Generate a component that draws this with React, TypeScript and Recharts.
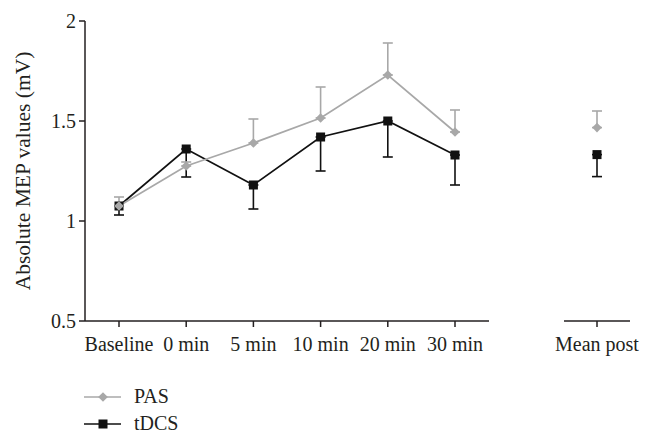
import React from 'react';
import { LineChart, Line, XAxis, YAxis, ErrorBar } from 'recharts';

const timepoints = ['Baseline', '0 min', '5 min', '10 min', '20 min', '30 min'];
const pasMeans = [1.075, 1.275, 1.39, 1.515, 1.73, 1.445];
const pasErr = [0.045, 0.02, 0.12, 0.155, 0.16, 0.11];
const tdcsMeans = [1.075, 1.36, 1.18, 1.42, 1.5, 1.33];
const tdcsErr = [0.045, 0.14, 0.12, 0.17, 0.18, 0.15];

const postLabel = ['Mean post'];
const pasPost = [1.467];
const pasPostErr = [0.083];
const tdcsPost = [1.332];
const tdcsPostErr = [0.11];

const yTicks = [0.5, 1, 1.5, 2];

const GRAY = '#a8a8a8';
const BLACK = '#111111';
const AXIS = '#231f20';
const FONT = '"Liberation Serif", "Times New Roman", serif';
const FS = 20;

// PAS error bars point up, tDCS error bars point down
const mainData = timepoints.map((t, i) => ({
  time: t,
  pas: pasMeans[i],
  pasErr: [0, pasErr[i]],
  tdcs: tdcsMeans[i],
  tdcsErr: [tdcsErr[i], 0],
}));

const postData = postLabel.map((t, i) => ({
  time: t,
  pas: pasPost[i],
  pasErr: [0, pasPostErr[i]],
  tdcs: tdcsPost[i],
  tdcsErr: [tdcsPostErr[i], 0],
}));

const Diamond = (props: any) => {
  const { cx, cy } = props;
  if (cx == null || cy == null) return null;
  const r = 4.8;
  return (
    <polygon
      points={`${cx},${cy - r} ${cx + r},${cy} ${cx},${cy + r} ${cx - r},${cy}`}
      fill={GRAY}
    />
  );
};

const Square = (props: any) => {
  const { cx, cy } = props;
  if (cx == null || cy == null) return null;
  const s = 9;
  return <rect x={cx - s / 2} y={cy - s / 2} width={s} height={s} fill={BLACK} />;
};

// plain text tick so "Mean post" does not wrap
const XTick = (props: any) => {
  const { x, y, payload } = props;
  return (
    <text x={x} y={y} dy="0.71em" textAnchor="middle" fontFamily={FONT} fontSize={FS} fill={AXIS}>
      {payload.value}
    </text>
  );
};

const yTickStyle = { fontFamily: FONT, fontSize: FS, fill: AXIS };

const renderLines = () => [
  <Line
    key="tdcs"
    dataKey="tdcs"
    stroke={BLACK}
    strokeWidth={1.7}
    dot={<Square />}
    activeDot={false}
    isAnimationActive={false}
  >
    <ErrorBar dataKey="tdcsErr" width={5} stroke={BLACK} strokeWidth={1.6} direction="y" />
  </Line>,
  <Line
    key="pas"
    dataKey="pas"
    stroke={GRAY}
    strokeWidth={1.7}
    dot={<Diamond />}
    activeDot={false}
    isAnimationActive={false}
  >
    <ErrorBar dataKey="pasErr" width={5} stroke={GRAY} strokeWidth={1.6} direction="y" />
  </Line>,
];

const App: React.FC = () => {
  return (
    <div
      style={{
        position: 'absolute',
        left: 0,
        top: 0,
        width: 670,
        height: 445,
        background: '#fff',
        fontFamily: FONT,
      }}
    >
      <div style={{ position: 'absolute', left: 0, top: 0 }}>
        <LineChart width={494} height={361} data={mainData} margin={{ top: 21, right: 5, left: 0, bottom: 0 }}>
          <XAxis
            dataKey="time"
            padding={{ left: 34, right: 34 }}
            height={40}
            tickSize={6}
            tickMargin={10}
            tick={<XTick />}
            stroke={AXIS}
            strokeWidth={1.5}
            interval={0}
          />
          <YAxis
            width={85}
            domain={[0.5, 2]}
            ticks={yTicks}
            tickSize={6}
            tickMargin={3}
            tick={yTickStyle}
            stroke={AXIS}
            strokeWidth={1.5}
            label={{
              value: 'Absolute MEP values (mV)',
              angle: -90,
              position: 'center',
              dx: -20,
              style: { fontFamily: FONT, fontSize: 21.5, fill: AXIS },
            }}
          />
          {renderLines()}
        </LineChart>
      </div>
      <div style={{ position: 'absolute', left: 530, top: 0 }}>
        <LineChart width={140} height={361} data={postData} margin={{ top: 21, right: 40, left: 34, bottom: 0 }}>
          <XAxis
            dataKey="time"
            height={40}
            tickSize={6}
            tickMargin={10}
            tick={<XTick />}
            stroke={AXIS}
            strokeWidth={1.5}
            interval={0}
          />
          <YAxis hide domain={[0.5, 2]} ticks={yTicks} />
          {renderLines()}
        </LineChart>
      </div>
      <div style={{ position: 'absolute', left: 84, top: 383, lineHeight: '27px', fontSize: FS, color: AXIS }}>
        <div style={{ display: 'flex', alignItems: 'center' }}>
          <svg width={38} height={12} style={{ marginRight: 12 }}>
            <line x1={0} y1={6} x2={37} y2={6} stroke={GRAY} strokeWidth={1.7} />
            <polygon points="19,1.2 23.8,6 19,10.8 14.2,6" fill={GRAY} />
          </svg>
          <span>PAS</span>
        </div>
        <div style={{ display: 'flex', alignItems: 'center' }}>
          <svg width={38} height={12} style={{ marginRight: 12 }}>
            <line x1={0} y1={6} x2={37} y2={6} stroke={BLACK} strokeWidth={1.7} />
            <rect x={14.5} y={1.5} width={9} height={9} fill={BLACK} />
          </svg>
          <span>tDCS</span>
        </div>
      </div>
    </div>
  );
};

export default App;
